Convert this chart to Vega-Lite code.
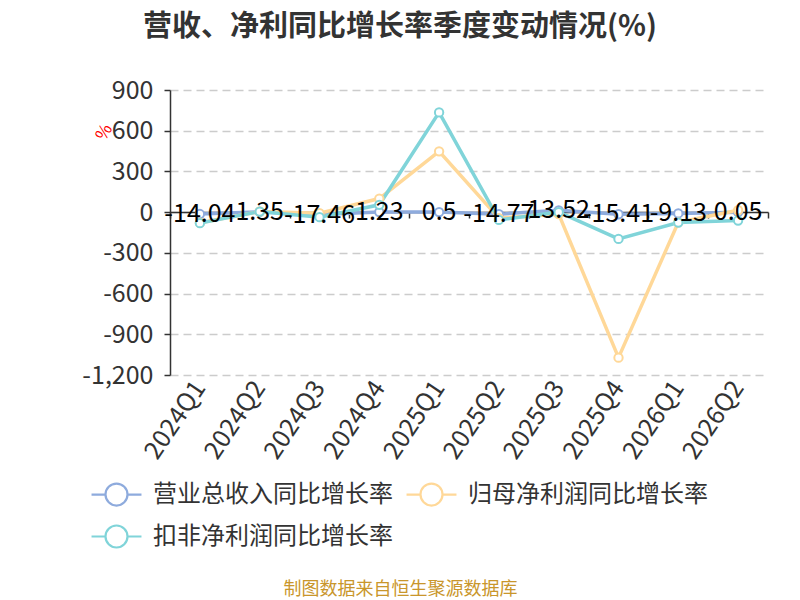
{
  "$schema": "https://vega.github.io/schema/vega-lite/v6.json",
  "autosize": "none",
  "width": 598,
  "height": 285,
  "padding": {"left": 170, "top": 90, "right": 32, "bottom": 225},
  "background": "white",
  "config": {
    "font": "Noto Sans CJK SC",
    "view": {"stroke": null},
    "locale": {"number": {"decimal": ".", "thousands": ",", "grouping": [3], "currency": ["", ""], "minus": "-"}}
  },
  "title": {
    "text": "营收、净利同比增长率季度变动情况(%)",
    "fontSize": 29,
    "fontWeight": "bold",
    "color": "#333333",
    "anchor": "middle",
    "frame": "group",
    "dx": -69,
    "offset": 36
  },
  "data": {
    "values": [
      {"quarter": "2024Q1", "series": "营业总收入同比增长率", "value": -14.04},
      {"quarter": "2024Q2", "series": "营业总收入同比增长率", "value": 1.35},
      {"quarter": "2024Q3", "series": "营业总收入同比增长率", "value": -17.46},
      {"quarter": "2024Q4", "series": "营业总收入同比增长率", "value": 1.23},
      {"quarter": "2025Q1", "series": "营业总收入同比增长率", "value": 0.5},
      {"quarter": "2025Q2", "series": "营业总收入同比增长率", "value": -14.77},
      {"quarter": "2025Q3", "series": "营业总收入同比增长率", "value": 13.52},
      {"quarter": "2025Q4", "series": "营业总收入同比增长率", "value": -15.41},
      {"quarter": "2026Q1", "series": "营业总收入同比增长率", "value": -9.13},
      {"quarter": "2026Q2", "series": "营业总收入同比增长率", "value": 0.05},
      {"quarter": "2024Q1", "series": "归母净利润同比增长率", "value": -78},
      {"quarter": "2024Q2", "series": "归母净利润同比增长率", "value": 5},
      {"quarter": "2024Q3", "series": "归母净利润同比增长率", "value": -8},
      {"quarter": "2024Q4", "series": "归母净利润同比增长率", "value": 100},
      {"quarter": "2025Q1", "series": "归母净利润同比增长率", "value": 448},
      {"quarter": "2025Q2", "series": "归母净利润同比增长率", "value": -44},
      {"quarter": "2025Q3", "series": "归母净利润同比增长率", "value": -15},
      {"quarter": "2025Q4", "series": "归母净利润同比增长率", "value": -1072},
      {"quarter": "2026Q1", "series": "归母净利润同比增长率", "value": -75},
      {"quarter": "2026Q2", "series": "归母净利润同比增长率", "value": 14},
      {"quarter": "2024Q1", "series": "扣非净利润同比增长率", "value": -81},
      {"quarter": "2024Q2", "series": "扣非净利润同比增长率", "value": 4},
      {"quarter": "2024Q3", "series": "扣非净利润同比增长率", "value": -37},
      {"quarter": "2024Q4", "series": "扣非净利润同比增长率", "value": 54},
      {"quarter": "2025Q1", "series": "扣非净利润同比增长率", "value": 735},
      {"quarter": "2025Q2", "series": "扣非净利润同比增长率", "value": -57},
      {"quarter": "2025Q3", "series": "扣非净利润同比增长率", "value": 0},
      {"quarter": "2025Q4", "series": "扣非净利润同比增长率", "value": -197},
      {"quarter": "2026Q1", "series": "扣非净利润同比增长率", "value": -77},
      {"quarter": "2026Q2", "series": "扣非净利润同比增长率", "value": -62}
    ]
  },
  "resolve": {"axis": {"x": "independent"}},
  "layer": [
    {
      "mark": {
        "type": "line",
        "strokeWidth": 3.5,
        "point": {"filled": false, "fill": "white", "size": 70, "strokeWidth": 2}
      },
      "encoding": {
        "x": {
          "field": "quarter",
          "type": "nominal",
          "sort": null,
          "scale": {"type": "band", "paddingInner": 0, "paddingOuter": 0},
          "axis": {
            "orient": "bottom",
            "domain": false,
            "ticks": false,
            "grid": false,
            "labelAngle": -56,
            "labelAlign": "right",
            "labelBaseline": "middle",
            "labelFontSize": 25,
            "labelColor": "#333333",
            "labelPadding": 8,
            "title": "制图数据来自恒生聚源数据库",
            "titleFontSize": 18,
            "titleFontWeight": "normal",
            "titleColor": "#C9962B",
            "titleX": 230,
            "titleY": 214,
            "titleAlign": "center",
            "titleBaseline": "middle"
          }
        },
        "y": {
          "field": "value",
          "type": "quantitative",
          "scale": {"domain": [-1200, 900], "nice": false, "zero": false},
          "axis": {
            "values": [-1200, -900, -600, -300, 0, 300, 600, 900],
            "format": ",.0f",
            "labelFontSize": 25,
            "labelColor": "#333333",
            "labelPadding": 11,
            "domainColor": "#333333",
            "domainWidth": 1.5,
            "tickColor": "#333333",
            "tickSize": 6,
            "tickWidth": 1.5,
            "gridColor": "#CCCCCC",
            "gridDash": [8, 5],
            "gridWidth": 1.5,
            "title": "%",
            "titleColor": "#FF0000",
            "titleFontSize": 17,
            "titleFontWeight": "normal",
            "titleAngle": -60,
            "titleX": -66,
            "titleY": 42,
            "titleAlign": "center",
            "titleBaseline": "middle"
          }
        },
        "color": {
          "field": "series",
          "type": "nominal",
          "sort": null,
          "scale": {
            "domain": ["营业总收入同比增长率", "归母净利润同比增长率", "扣非净利润同比增长率"],
            "range": ["#8EABDD", "#FFD898", "#80D4D9"]
          },
          "legend": {
            "orient": "none",
            "title": null,
            "direction": "horizontal",
            "columns": 2,
            "legendX": -66,
            "legendY": 392,
            "columnPadding": 9,
            "rowPadding": 11,
            "labelFontSize": 24,
            "labelColor": "#333333",
            "labelOffset": 24,
            "labelLimit": 400,
            "symbolType": "M-2.27,0L-1,0M1,0L2.27,0M-1,0A1,1 0 1,1 1,0A1,1 0 1,1 -1,0Z",
            "symbolSize": 484,
            "symbolStrokeWidth": 2.2,
            "symbolFillColor": "white"
          }
        }
      }
    },
    {
      "transform": [{"filter": "datum.series === '营业总收入同比增长率'"}],
      "mark": {"type": "text", "fontSize": 25, "color": "#000000", "baseline": "middle", "align": "center"},
      "encoding": {
        "x": {
          "field": "quarter",
          "type": "nominal",
          "sort": null,
          "axis": {
            "orient": "bottom",
            "offset": -163,
            "labels": false,
            "title": null,
            "grid": false,
            "domainColor": "#333333",
            "domainWidth": 1.5,
            "tickColor": "#333333",
            "tickWidth": 1.5,
            "tickSize": 6,
            "tickBand": "extent"
          }
        },
        "y": {"field": "value", "type": "quantitative"},
        "text": {"field": "value", "type": "quantitative"}
      }
    }
  ]
}
